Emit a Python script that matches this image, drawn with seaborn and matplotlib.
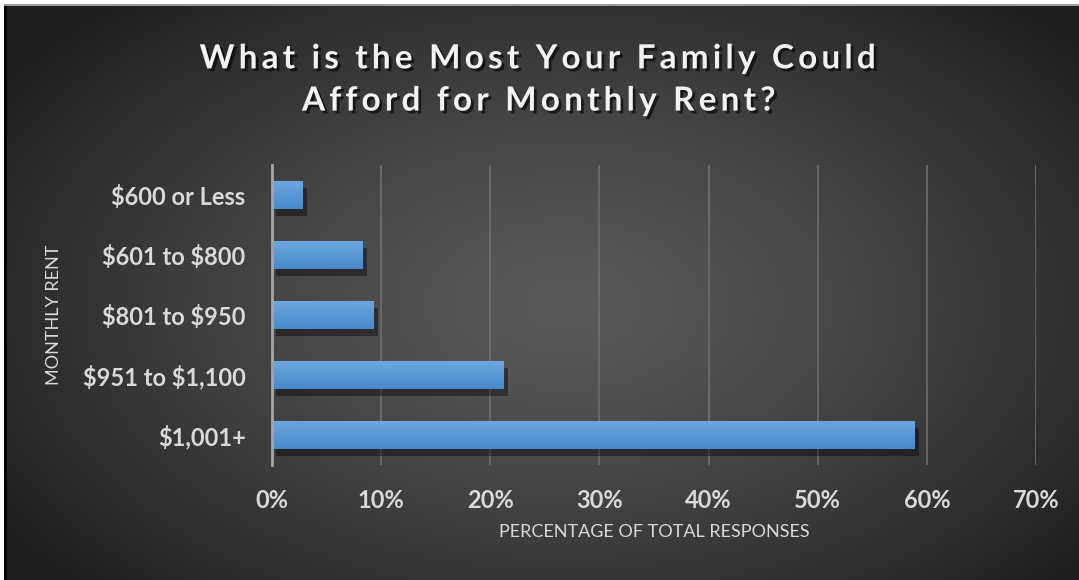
import numpy as np
import matplotlib
matplotlib.use("Agg")
import matplotlib.pyplot as plt
import matplotlib.patheffects as pe
from matplotlib.patches import Rectangle
from matplotlib.ticker import FuncFormatter
import seaborn as sns

# Data
categories = ["$600 or Less", "$601 to $800", "$801 to $950", "$951 to $1,100", "$1,001+"]
shares = [0.028, 0.083, 0.093, 0.212, 0.589]
x_ticks = [0.0, 0.1, 0.2, 0.3, 0.4, 0.5, 0.6, 0.7]

title_lines = ["What is the Most Your Family Could", "Afford for Monthly Rent?"]
x_label = "PERCENTAGE OF TOTAL RESPONSES"
y_label = "MONTHLY RENT"

sns.set_theme(style="dark")
plt.rcParams["font.family"] = ["Lato", "DejaVu Sans"]
plt.rcParams["text.parse_math"] = False  # keep the $ signs literal

W, H = 1079, 580
fig = plt.figure(figsize=(W / 100, H / 100), dpi=100)
fig.patch.set_facecolor("white")

# background with radial gradient (lighter in the middle)
bg = fig.add_axes([6 / W, 0, 1 - 6 / W, 1 - 6 / H], zorder=-10)
yy, xx = np.mgrid[0:1:300j, 0:1:560j]
r = np.sqrt(((xx - 0.52) / 0.75) ** 2 + ((yy - 0.52) / 0.85) ** 2)
shade = np.clip(0.35 - 0.29 * r ** 1.3, 0.12, 0.35)
bg.imshow(np.dstack([shade] * 3), aspect="auto", extent=[0, 1, 0, 1], interpolation="bicubic")
bg.set_axis_off()
# frame lines at left and top
fig.add_artist(Rectangle((4 / W, 0), 3 / W, 1 - 5 / H, transform=fig.transFigure,
                         facecolor="black", edgecolor="none", zorder=5))
fig.add_artist(Rectangle((4 / W, 1 - 6 / H), 1, 1.5 / H, transform=fig.transFigure,
                         facecolor="#9a9a9a", edgecolor="none", zorder=5))

ax = fig.add_axes([272 / W, 115 / H, 764 / W, 300 / H])
ax.set_facecolor("none")
sns.barplot(x=shares, y=categories, orient="h", width=0.48, color="#5b9bd5",
            saturation=1, linewidth=0, ax=ax, zorder=3)

ax.set_xlim(0, 0.7)
ax.set_xticks(x_ticks)
ax.xaxis.set_major_formatter(FuncFormatter(lambda v, _: f"{v * 100:.0f}%"))

# gradient fill + soft shadow on bars
grad = np.linspace(0, 1, 64).reshape(-1, 1)
cmap = matplotlib.colors.LinearSegmentedColormap.from_list("bar", ["#6ea8e0", "#4689cc"])
for p in ax.patches:
    p.set_path_effects([pe.SimplePatchShadow(offset=(3, -5), shadow_rgbFace="black", alpha=0.4),
                        pe.Normal()])
    x0, y0 = p.get_x(), p.get_y()
    w, h = p.get_width(), p.get_height()
    im = ax.imshow(grad, cmap=cmap, aspect="auto", extent=[x0, x0 + w, y0 + h, y0],
                   zorder=4, interpolation="bilinear")
    im.set_clip_path(p)
ax.set_ylim(4.5, -0.5)
ax.set_xlim(0, 0.7)

ax.grid(axis="x", color="#6e6e6e", linewidth=1.2, zorder=0)
ax.grid(axis="y", visible=False)
for s in ["top", "right", "bottom"]:
    ax.spines[s].set_visible(False)
ax.spines["left"].set_color("#a6a6a6")
ax.spines["left"].set_linewidth(2)
ax.spines["left"].set_zorder(6)

ax.tick_params(axis="both", length=0, colors="#d9d9d9")
ax.tick_params(axis="y", pad=19, labelsize=17)
ax.tick_params(axis="x", pad=17, labelsize=17)
for lbl in ax.get_xticklabels() + ax.get_yticklabels():
    lbl.set_fontweight("bold")

ax.set_xlabel(x_label, color="#d9d9d9", fontsize=13, labelpad=9)
ax.set_ylabel(y_label, color="#d9d9d9", fontsize=13)
ax.yaxis.set_label_coords(-(272 - 62) / 764, 0.5)

# title with letter spacing: pad with hair spaces until the first line is ~710 px wide
renderer = fig.canvas.get_renderer()
title = fig.text(0.5, 1 - 80 / H, "", ha="center", va="center", color="#f2f2f2", fontsize=24,
                 fontweight="bold", linespacing=1.55,
                 path_effects=[pe.withSimplePatchShadow(offset=(2, -2), shadow_rgbFace="black", alpha=0.6)])
best = None
for n in range(0, 12):
    gap = "\u200a" * n
    title.set_text(gap.join(title_lines[0]))
    width = title.get_window_extent(renderer).width
    if best is None or abs(width - 710) < abs(best[1] - 710):
        best = (gap, width)
gap = best[0]
title.set_text("\n".join(gap.join(line) for line in title_lines))

fig.savefig("out.png", dpi=100)
